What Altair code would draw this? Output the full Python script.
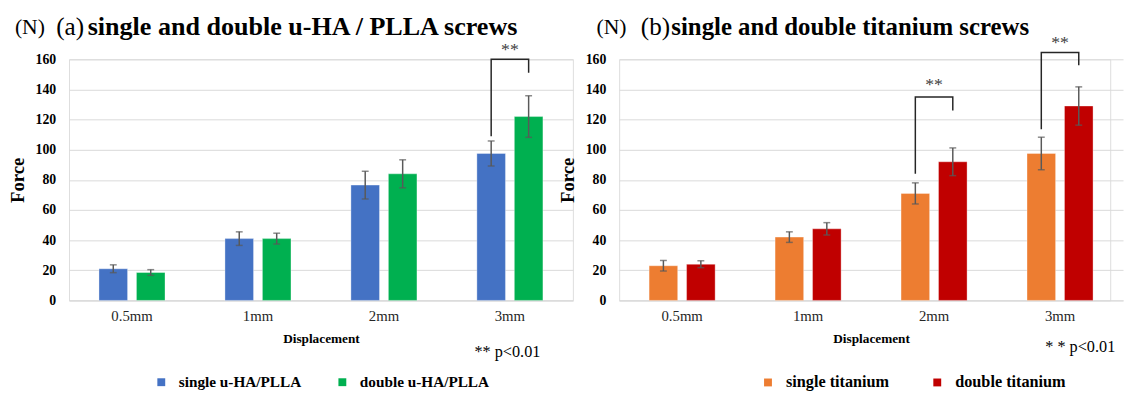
import altair as alt
import pandas as pd

FONT = "Liberation Serif"

categories = ["0.5mm", "1mm", "2mm", "3mm"]
y_ticks = [0, 20, 40, 60, 80, 100, 120, 140, 160]

# panel (a)
series_a = ["single u-HA/PLLA", "double u-HA/PLLA"]
single_a = [21, 41, 76.5, 97.5]
single_a_err = [2.6, 4.5, 9.2, 8.3]
double_a = [18.5, 41, 84, 122]
double_a_err = [1.9, 3.6, 9.3, 13.8]
colors_a = ["#4472C4", "#00B050"]
brk_a_cat = ["3mm"]
brk_a_low = [109]
brk_a_top = [160]
brk_a_high = [151]
star_a_y = [166]

# panel (b)
series_b = ["single titanium", "double titanium"]
single_b = [23, 42, 71, 97.5]
single_b_err = [3.5, 3.5, 7, 10.8]
double_b = [24, 47.5, 92, 129]
double_b_err = [2.3, 4.1, 9.2, 12.7]
colors_b = ["#ED7D31", "#C00000"]
brk_b_cat = ["2mm", "3mm"]
brk_b_low = [84, 113.5]
brk_b_top = [135, 164.5]
brk_b_high = [126, 156]
star_b_y = [143, 171]

title_a = ["(N)", "(a)", "single and double u-HA / PLLA screws"]
title_b = ["(N)", "(b)", "single and double titanium screws"]
note_a = "** p<0.01"
note_b = "* * p<0.01"


def panel(titles, series, singles, s_err, doubles, d_err, colors,
          brk_cat, brk_low, brk_top, brk_high, star_y, note,
          width, title_x, title_size, note_xy, legend_x, legend_pad, legend_size):
    rows = []
    for i, c in enumerate(categories):
        rows.append(dict(cat=c, series=series[0], value=singles[i],
                         lo=singles[i] - s_err[i], hi=singles[i] + s_err[i]))
        rows.append(dict(cat=c, series=series[1], value=doubles[i],
                         lo=doubles[i] - d_err[i], hi=doubles[i] + d_err[i]))
    df = pd.DataFrame(rows)

    x = alt.X("cat:N", sort=categories,
              scale=alt.Scale(domain=categories, range=[0, 512],
                              paddingInner=0, paddingOuter=0),
              axis=alt.Axis(title="Displacement", labelAngle=0, labelFont=FONT,
                            labelFontSize=15, labelColor="#262626", labelPadding=8,
                            domainColor="#d9d9d9", domainWidth=1, ticks=False, grid=False,
                            titleFont=FONT, titleFontSize=13.5, titleFontWeight="bold",
                            titleColor="#000000", titlePadding=9))
    xo = alt.XOffset("series:N", sort=series,
                     scale=alt.Scale(domain=series, paddingInner=0.237, paddingOuter=0.8))
    y_axis = alt.Axis(values=y_ticks, title="Force", labelFont=FONT,
                      labelFontSize=14, labelFontWeight="bold", labelColor="#000000",
                      labelPadding=13.5, domain=False, ticks=False, grid=True,
                      gridColor="#d9d9d9", gridWidth=1, titleFont=FONT,
                      titleFontSize=19, titleFontWeight="bold", titleColor="#000000",
                      titlePadding=8, labelOverlap=False)
    yscale = alt.Scale(domain=[0, 160], nice=False)

    def Y(field):
        return alt.Y(field, scale=yscale, axis=y_axis)

    base = alt.Chart(df)
    bars = base.mark_bar(stroke="#ffffff", strokeOpacity=0.35, strokeWidth=1).encode(
        x=x, xOffset=xo,
        y=Y("value:Q"),
        color=alt.Color("series:N", sort=series,
                        scale=alt.Scale(domain=series, range=colors),
                        legend=alt.Legend(title=None, orient="none", legendX=legend_x,
                                          legendY=320, direction="horizontal",
                                          symbolType="square", symbolSize=64,
                                          symbolStrokeWidth=0, labelFont=FONT,
                                          labelFontSize=legend_size, labelFontWeight="bold",
                                          labelColor="#000000", labelOffset=10,
                                          columnPadding=legend_pad, padding=0)),
    )
    err = base.mark_rule(color="#595959", strokeWidth=1.5).encode(
        x=x, xOffset=xo, y=Y("lo:Q"), y2="hi:Q")
    caps_lo = base.mark_tick(color="#595959", thickness=1.5, size=7, orient="horizontal").encode(
        x=x, xOffset=xo, y=Y("lo:Q"))
    caps_hi = base.mark_tick(color="#595959", thickness=1.5, size=7, orient="horizontal").encode(
        x=x, xOffset=xo, y=Y("hi:Q"))

    brows = []
    for j, c in enumerate(brk_cat):
        brows.append(dict(g=j, o=0, cat=c, series=series[0], v=brk_low[j]))
        brows.append(dict(g=j, o=1, cat=c, series=series[0], v=brk_top[j]))
        brows.append(dict(g=j, o=2, cat=c, series=series[1], v=brk_top[j]))
        brows.append(dict(g=j, o=3, cat=c, series=series[1], v=brk_high[j]))
    bdf = pd.DataFrame(brows)
    brackets = alt.Chart(bdf).mark_line(color="#262626", strokeWidth=1.5).encode(
        x=x, xOffset=xo, y=Y("v:Q"),
        detail="g:N", order="o:Q")

    sdf = pd.DataFrame(dict(cat=brk_cat, v=star_y, t=["**"] * len(brk_cat)))
    stars = alt.Chart(sdf).mark_text(font=FONT, fontSize=18, color="#404040",
                                     baseline="middle").encode(
        x=x, y=Y("v:Q"), text="t:N")

    tdf = pd.DataFrame(dict(t=[titles[0]]))
    t0 = alt.Chart(tdf).mark_text(font=FONT, fontSize=22, color="#000000", align="left",
                                  baseline="alphabetic").encode(
        x=alt.value(title_x[0]), y=alt.value(-26), text="t:N")
    tdf1 = pd.DataFrame(dict(t=[titles[1]]))
    t1 = alt.Chart(tdf1).mark_text(font=FONT, fontSize=25.5, color="#000000", align="left",
                                   baseline="alphabetic").encode(
        x=alt.value(title_x[1]), y=alt.value(-25), text="t:N")
    tdf2 = pd.DataFrame(dict(t=[titles[2]]))
    t2 = alt.Chart(tdf2).mark_text(font=FONT, fontSize=title_size, fontWeight="bold",
                                   color="#000000", align="left",
                                   baseline="alphabetic").encode(
        x=alt.value(title_x[2]), y=alt.value(-25), text="t:N")
    ndf = pd.DataFrame(dict(t=[note]))
    nt = alt.Chart(ndf).mark_text(font=FONT, fontSize=16.5, color="#000000", align="left",
                                  baseline="middle").encode(
        x=alt.value(note_xy[0]), y=alt.value(note_xy[1]), text="t:N")

    return alt.layer(bars, err, caps_lo, caps_hi, brackets, stars, t0, t1, t2, nt).properties(
        width=width, height=245)


left = panel(title_a, series_a, single_a, single_a_err, double_a, double_a_err, colors_a,
             brk_a_cat, brk_a_low, brk_a_top, brk_a_high, star_a_y, note_a,
             width=512, title_x=[-55, -13, 19], title_size=26.5, note_xy=[412, 297],
             legend_x=86, legend_pad=34, legend_size=15.5)
right = panel(title_b, series_b, single_b, single_b_err, double_b, double_b_err, colors_b,
              brk_b_cat, brk_b_low, brk_b_top, brk_b_high, star_b_y, note_b,
              width=499, title_x=[-23, 22, 53], title_size=25.2, note_xy=[433, 292],
              legend_x=143, legend_pad=40, legend_size=16.5)

chart = alt.hconcat(left, right, spacing=-16).resolve_scale(
    color="independent", x="independent", y="independent", xOffset="independent"
).properties(
    padding={"left": 0, "top": 2, "right": 0, "bottom": 0}
).configure_view(stroke=None).configure(background="#ffffff")

chart.save("out.html", embed_options={"renderer": "svg", "actions": False})
